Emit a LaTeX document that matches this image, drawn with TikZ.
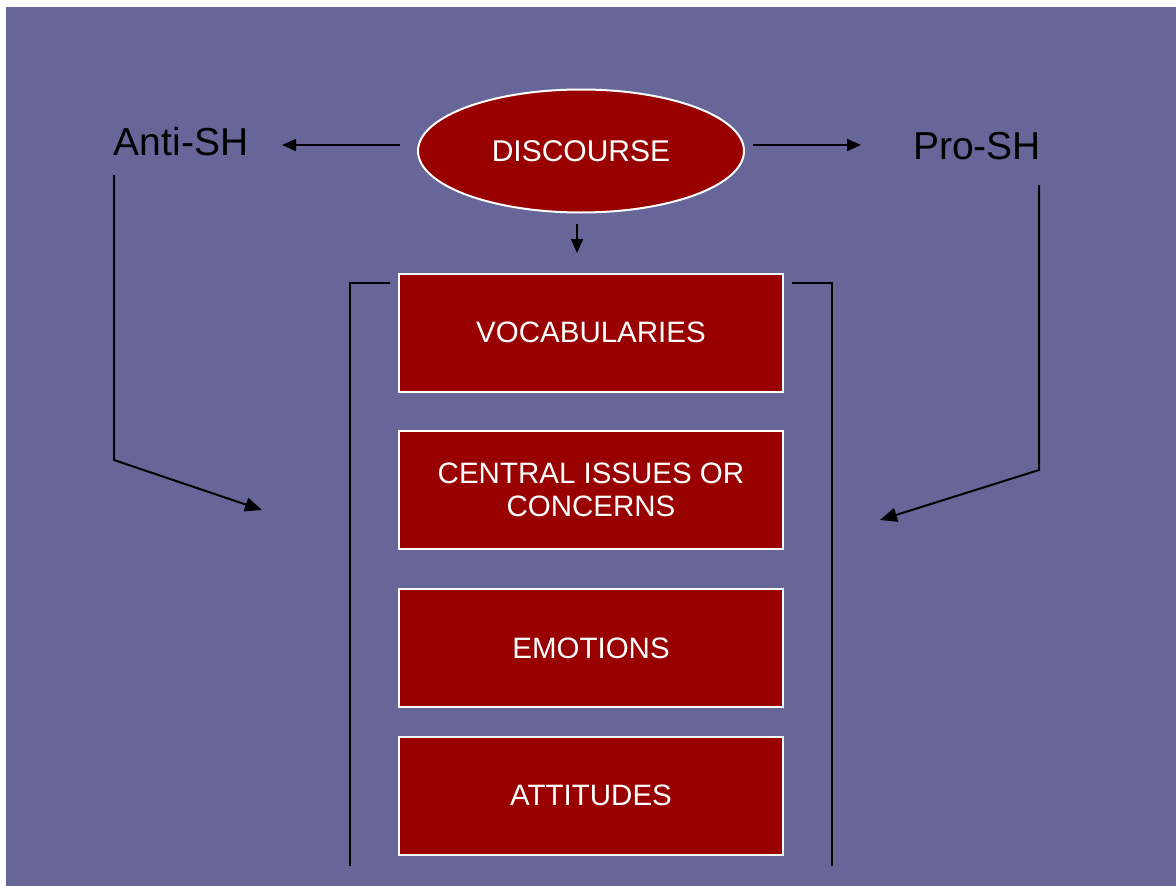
\documentclass[tikz,border=0pt]{standalone}
\usepackage{fontspec}
\setmainfont{Liberation Sans}
\usetikzlibrary{arrows.meta,shapes.geometric}
\definecolor{slidebg}{HTML}{666699}
\definecolor{boxred}{HTML}{990000}
\begin{document}
\begin{tikzpicture}[x=1pt,y=-1pt,
  redbox/.style={rectangle,draw=white,line width=2pt,fill=boxred,text=white,
    minimum width=384pt,minimum height=118pt,inner sep=0pt,align=center,
    font=\fontsize{29.5}{33}\selectfont},
  lbl/.style={inner sep=0pt,text=black,font=\fontsize{39}{42}\selectfont},
  conn/.style={draw=black,line width=2pt,-{Triangle[length=14pt,width=12pt]}},
  bigconn/.style={draw=black,line width=2pt,-{Triangle[length=17pt,width=14pt]}},
  bracket/.style={draw=black,line width=2pt}]
\useasboundingbox (0,0) rectangle (1176,886);
\fill[white] (0,0) rectangle (1176,886);
\fill[slidebg] (6,7) rectangle (1176,886);

\node[ellipse,draw=white,line width=2pt,fill=boxred,text=white,
  minimum width=326pt,minimum height=123pt,inner sep=0pt,
  font=\fontsize{30}{33}\selectfont] (disc) at (581,151) {DISCOURSE};

\node[lbl] (anti) at (181,142) {Anti-SH};
\node[lbl] (pro) at (977,146) {Pro-SH};

\node[redbox] (voc) at (591,332.5) {VOCABULARIES};
\node[redbox] (cen) at (591,490) {CENTRAL ISSUES OR\\CONCERNS};
\node[redbox] (emo) at (591,648) {EMOTIONS};
\node[redbox] (att) at (591,795.5) {ATTITUDES};

% arrows from discourse
\coordinate (dl) at (400,145);
\coordinate (al) at (282,145);
\draw[conn] (dl) -- (al);
\coordinate (dr) at (753,145);
\coordinate (pr) at (861,145);
\draw[conn] (dr) -- (pr);
\coordinate (dtop) at (577,224);
\coordinate (dbot) at (577,253);
\draw[conn] (dtop) -- (dbot);

% side connectors
\coordinate (a1) at (114,175);
\coordinate (a2) at (114,460);
\coordinate (a3) at (262,510);
\draw[bigconn] (a1) -- (a2) -- (a3);
\coordinate (p1) at (1039,185);
\coordinate (p2) at (1039,470);
\coordinate (p3) at (880,520);
\draw[bigconn] (p1) -- (p2) -- (p3);

% brackets
\coordinate (lb1) at (390,283);
\coordinate (lb2) at (350,283);
\coordinate (lb3) at (350,866);
\draw[bracket] (lb1) -- (lb2) -- (lb3);
\coordinate (rb1) at (792,283);
\coordinate (rb2) at (832,283);
\coordinate (rb3) at (832,866);
\draw[bracket] (rb1) -- (rb2) -- (rb3);
\end{tikzpicture}
\end{document}
